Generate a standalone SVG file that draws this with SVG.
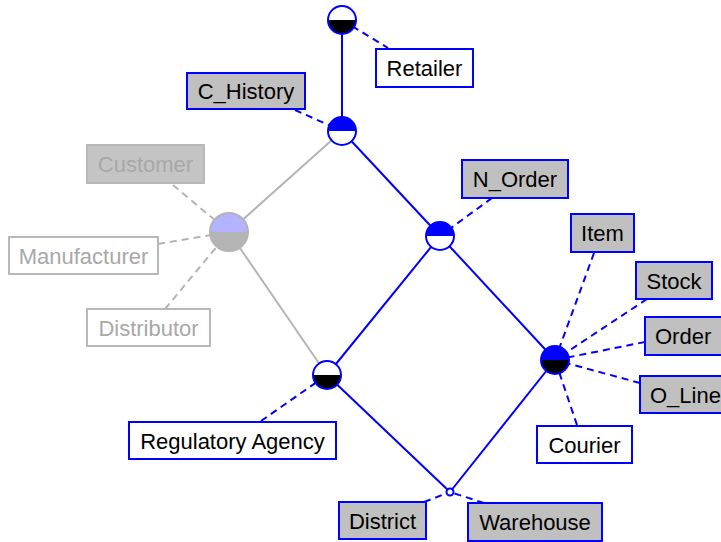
<svg xmlns="http://www.w3.org/2000/svg" width="721" height="542" viewBox="0 0 721 542">
  <style>
    .edge { stroke: #0000ff; stroke-width: 2; fill: none; }
    .edge-off { stroke: #b4b4b4; stroke-width: 2; fill: none; }
    .link { stroke: #0000ff; stroke-width: 2; stroke-dasharray: 7 5; fill: none; }
    .link-off { stroke: #b4b4b4; stroke-width: 2; stroke-dasharray: 7 5; fill: none; }
    .ring { fill: none; stroke: #0000ff; stroke-width: 2; }
    .ring-off { fill: none; stroke: #b4b4b4; stroke-width: 2; }
    .box { stroke: #0000ff; stroke-width: 2; }
    .box-off { stroke: #b8b8b8; stroke-width: 2; }
    .solid { fill: #c0c0c0; }
    .empty { fill: #ffffff; }
    .solid-off { fill: #c4c4c4; }
    .label { font-family: "Liberation Sans", Arial, sans-serif; font-size: 22px; fill: #000000; }
    .label-off { font-family: "Liberation Sans", Arial, sans-serif; font-size: 22px; fill: #a8a8a8; }
    .mid { text-anchor: middle; }
  </style>

  <!-- connectors: lattice edges and dashed label links -->
  <g id="connectors">
    <line class="edge-off" x1="342" y1="131" x2="229" y2="232"/>
    <line class="edge-off" x1="229" y1="232" x2="327" y2="375"/>
    <line class="link-off" x1="173" y1="185" x2="229" y2="232"/>
    <line class="link-off" x1="158" y1="244" x2="229" y2="232"/>
    <line class="link-off" x1="165" y1="309" x2="229" y2="232"/>

    <line class="edge" x1="342" y1="20" x2="342" y2="131"/>
    <line class="edge" x1="342" y1="131" x2="440" y2="236"/>
    <line class="edge" x1="440" y1="236" x2="555" y2="360"/>
    <line class="edge" x1="440" y1="236" x2="327" y2="375"/>
    <line class="edge" x1="327" y1="375" x2="450" y2="492"/>
    <line class="edge" x1="555" y1="360" x2="450" y2="492"/>

    <line class="link" x1="342" y1="20" x2="388" y2="48"/>
    <line class="link" x1="295" y1="110" x2="342" y2="131"/>
    <line class="link" x1="492" y1="198" x2="440" y2="236"/>
    <line class="link" x1="594" y1="253" x2="555" y2="360"/>
    <line class="link" x1="647" y1="299" x2="555" y2="360"/>
    <line class="link" x1="645" y1="342" x2="555" y2="360"/>
    <line class="link" x1="640" y1="383" x2="555" y2="360"/>
    <line class="link" x1="577" y1="425" x2="555" y2="360"/>
    <line class="link" x1="261" y1="421" x2="327" y2="375"/>
    <line class="link" x1="424" y1="502" x2="450" y2="492"/>
    <line class="link" x1="484" y1="503" x2="450" y2="492"/>
  </g>

  <!-- lattice points -->
  <g id="pt-top">
    <path d="M328 20 A14 14 0 0 0 356 20 Z" fill="#000000"/>
    <path d="M328 20 A14 14 0 0 1 356 20 Z" fill="#ffffff"/>
    <circle class="ring" cx="342" cy="20" r="14"/>
  </g>
  <g id="pt-history">
    <path d="M328 131 A14 14 0 0 1 356 131 Z" fill="#0000ff"/>
    <path d="M328 131 A14 14 0 0 0 356 131 Z" fill="#ffffff"/>
    <circle class="ring" cx="342" cy="131" r="14"/>
  </g>
  <g id="pt-customer">
    <path d="M210 232 A19 19 0 0 1 248 232 Z" fill="#b3b3ff"/>
    <path d="M210 232 A19 19 0 0 0 248 232 Z" fill="#b4b4b4"/>
    <circle class="ring-off" cx="229" cy="232" r="19"/>
  </g>
  <g id="pt-order">
    <path d="M426 236 A14 14 0 0 1 454 236 Z" fill="#0000ff"/>
    <path d="M426 236 A14 14 0 0 0 454 236 Z" fill="#ffffff"/>
    <circle class="ring" cx="440" cy="236" r="14"/>
  </g>
  <g id="pt-agency">
    <path d="M313 375 A14 14 0 0 1 341 375 Z" fill="#ffffff"/>
    <path d="M313 375 A14 14 0 0 0 341 375 Z" fill="#000000"/>
    <circle class="ring" cx="327" cy="375" r="14"/>
  </g>
  <g id="pt-item">
    <path d="M541 360 A14 14 0 0 1 569 360 Z" fill="#0000ff"/>
    <path d="M541 360 A14 14 0 0 0 569 360 Z" fill="#000000"/>
    <circle class="ring" cx="555" cy="360" r="14"/>
  </g>
  <g id="pt-bottom">
    <circle cx="450" cy="492" r="3.5" fill="#ffffff" stroke="#0000ff" stroke-width="2"/>
  </g>

  <!-- labels -->
  <g id="retailer">
    <rect class="box empty" x="376" y="49" width="97" height="38"/>
    <text class="label mid" x="424.5" y="76">Retailer</text>
  </g>
  <g id="c-history">
    <rect class="box solid" x="187" y="73" width="118" height="36"/>
    <text class="label mid" x="246" y="99">C_History</text>
  </g>
  <g id="customer">
    <rect class="box-off solid-off" x="87" y="145" width="117" height="38"/>
    <text class="label-off mid" x="145.5" y="172">Customer</text>
  </g>
  <g id="manufacturer">
    <rect class="box-off empty" x="9" y="237" width="149" height="37"/>
    <text class="label-off mid" x="83.5" y="263.5">Manufacturer</text>
  </g>
  <g id="distributor">
    <rect class="box-off empty" x="87" y="309" width="123" height="37"/>
    <text class="label-off mid" x="148.5" y="335.5">Distributor</text>
  </g>
  <g id="n-order">
    <rect class="box solid" x="462" y="160" width="106" height="38"/>
    <text class="label mid" x="515" y="187">N_Order</text>
  </g>
  <g id="item">
    <rect class="box solid" x="571" y="214" width="63" height="38"/>
    <text class="label mid" x="602.5" y="241">Item</text>
  </g>
  <g id="stock">
    <rect class="box solid" x="636" y="262" width="76" height="37"/>
    <text class="label mid" x="674" y="288.5">Stock</text>
  </g>
  <g id="order">
    <rect class="box solid" x="645" y="317" width="77" height="38"/>
    <text class="label" x="655" y="344">Order</text>
  </g>
  <g id="o-line">
    <rect class="box solid" x="640" y="376" width="92" height="37"/>
    <text class="label" x="650" y="402.5">O_Line</text>
  </g>
  <g id="courier">
    <rect class="box empty" x="537" y="426" width="95" height="37"/>
    <text class="label mid" x="584.5" y="452.5">Courier</text>
  </g>
  <g id="regulatory-agency">
    <rect class="box empty" x="129" y="422" width="207" height="37"/>
    <text class="label mid" x="232.5" y="448.5">Regulatory Agency</text>
  </g>
  <g id="district">
    <rect class="box solid" x="339" y="502" width="87" height="37"/>
    <text class="label mid" x="382.5" y="528.5">District</text>
  </g>
  <g id="warehouse">
    <rect class="box solid" x="468" y="503" width="134" height="38"/>
    <text class="label mid" x="535" y="530">Warehouse</text>
  </g>
</svg>
